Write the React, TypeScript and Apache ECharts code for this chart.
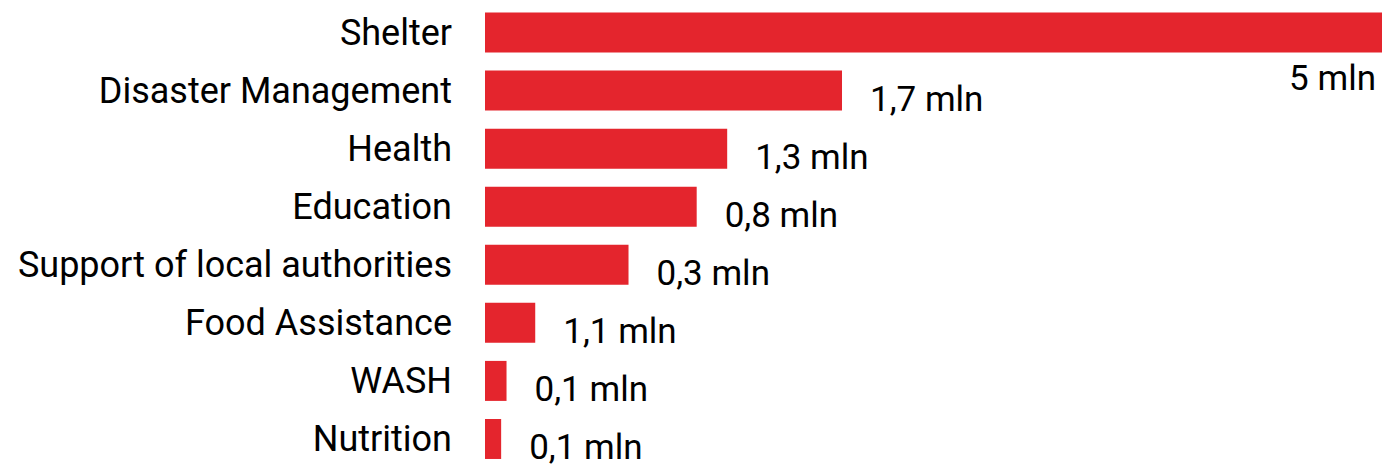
import React, { useEffect, useRef } from "react";
import * as echarts from "echarts";

const categories = [
  "Shelter",
  "Disaster Management",
  "Health",
  "Education",
  "Support of local authorities",
  "Food Assistance",
  "WASH",
  "Nutrition",
];
const barValues = [5, 1.99, 1.35, 1.18, 0.8, 0.28, 0.12, 0.09];
const labelTexts = ["5 mln", "1,7 mln", "1,3 mln", "0,8 mln", "0,3 mln", "1,1 mln", "0,1 mln", "0,1 mln"];

export default function App() {
  const ref = useRef<HTMLDivElement>(null);
  useEffect(() => {
    if (!ref.current) return;
    const chart = echarts.init(ref.current, undefined, { renderer: "svg" });
    const maxV = Math.max(...barValues);
    const data = barValues.map((v) =>
      v === maxV
        ? { value: v, label: { position: "insideRight", distance: 6, offset: [0, 46] } }
        : v
    );
    chart.setOption({
      animation: false,
      textStyle: { fontFamily: "Roboto" },
      grid: { left: 485, top: 3.5, width: 897, height: 467.6, containLabel: false },
      xAxis: {
        type: "value",
        min: 0,
        max: 5,
        show: false,
      },
      yAxis: {
        type: "category",
        data: categories,
        inverse: true,
        axisLine: { show: false },
        axisTick: { show: false },
        splitLine: { show: false },
        axisLabel: {
          fontFamily: "Roboto",
          fontSize: 36,
          color: "#000",
          margin: 33,
        },
      },
      series: [
        {
          type: "bar",
          data,
          barWidth: 40,
          itemStyle: { color: "#E4252D" },
          label: {
            show: true,
            position: "right",
            distance: 28,
            offset: [0, 9],
            fontFamily: "Roboto",
            fontSize: 35,
            color: "#000",
            formatter: (p: any) => labelTexts[p.dataIndex],
          },
        },
      ],
    });
    return () => chart.dispose();
  }, []);
  return (
    <div
      ref={ref}
      style={{ position: "absolute", left: 0, top: 0, width: 1382, height: 468 }}
    />
  );
}
